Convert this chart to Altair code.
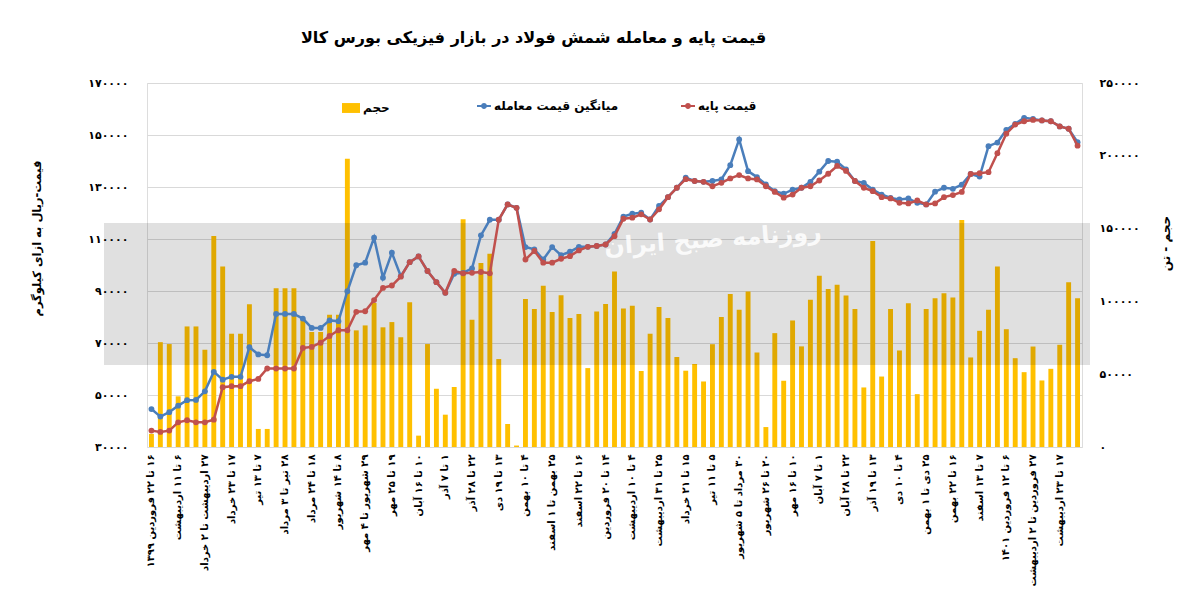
import json
import pandas as pd
import altair as alt

# ---------------- data ----------------
labels = [
    "۱۶ تا ۲۲ فروردین ۱۳۹۹", "۶ تا ۱۱ اردیبهشت", "۲۷ اردیبهشت تا ۲ خرداد", "۱۷ تا ۲۳ خرداد",
    "۷ تا ۱۳ تیر", "۲۸ تیر تا ۳ مرداد", "۱۸ تا ۲۴ مرداد", "۸ تا ۱۴ شهریور",
    "۲۹ شهریور تا ۴ مهر", "۱۹ تا ۲۵ مهر", "۱۰ تا ۱۶ آبان", "۱ تا ۷ آذر",
    "۲۲ تا ۲۸ آذر", "۱۳ تا ۱۹ دی", "۴ تا ۱۰ بهمن", "۲۵ بهمن تا ۱ اسفند",
    "۱۶ تا ۲۲ اسفند", "۱۴ تا ۲۰ فروردین", "۴ تا ۱۰ اردیبهشت", "۲۵ تا ۳۱ اردیبهشت",
    "۱۵ تا ۲۱ خرداد", "۵ تا ۱۱ تیر", "۳۰ مرداد تا ۵ شهریور", "۲۰ تا ۲۶ شهریور",
    "۱۰ تا ۱۶ مهر", "۱ تا ۷ آبان", "۲۲ تا ۲۸ آبان", "۱۳ تا ۱۹ آذر",
    "۴ تا ۱۰ دی", "۲۵ دی تا ۱ بهمن", "۱۶ تا ۲۲ بهمن", "۷ تا ۱۳ اسفند",
    "۶ تا ۱۲ فروردین ۱۴۰۱", "۲۷ فروردین تا ۲ اردیبهشت", "۱۷ تا ۲۳ اردیبهشت",
]

trade_price = [
    44600, 41700, 43400, 45900, 48000, 48100, 51400, 58900, 55900, 57000,
    57000, 68400, 65600, 65300, 81200, 81200, 81200, 79400, 75800, 75800,
    78700, 78400, 89900, 99900, 100900, 110500, 95100, 104700, 95700, 101100,
    103300, 97700, 93400, 89300, 96600, 97000, 98700, 111400, 117400, 117400,
    123300, 122000, 106900, 106000, 102100, 106900, 103800, 105100, 107000, 107000,
    107300, 107900, 112000, 118600, 119700, 120100, 117500, 122700, 126100, 129700,
    133600, 132300, 132000, 132300, 132900, 138400, 148300, 136100, 133800, 131000,
    128400, 127400, 129000, 129700, 132000, 135900, 140000, 139700, 136800, 132300,
    131600, 129000, 127100, 125800, 125200, 125600, 123900, 123300, 128200, 129700,
    129300, 130900, 135000, 134000, 145700, 147100, 152000, 154300, 156600, 156200,
    155600, 155300, 153300, 152400, 147200,
]

base_price = [
    36300, 35800, 36300, 39500, 40300, 39500, 39500, 40500, 53000, 53400,
    53400, 55300, 56200, 60200, 60200, 60200, 60200, 68100, 68500, 70100,
    72700, 74900, 74900, 82000, 82200, 86500, 91200, 92100, 95500, 101100,
    103300, 97700, 93400, 89300, 97700, 96800, 97000, 97300, 96800, 117400,
    123300, 122000, 102100, 105400, 100900, 100900, 102400, 103400, 105600, 107000,
    107300, 107900, 111100, 117800, 118200, 119500, 117500, 121400, 126100, 129700,
    133000, 132300, 132000, 130300, 131600, 133300, 134600, 133300, 132900, 130300,
    128100, 125900, 127100, 129700, 130300, 132500, 135100, 138100, 136200, 132300,
    129700, 128400, 126100, 125600, 123900, 123700, 124800, 123300, 123700, 126100,
    126900, 128100, 135000, 135300, 135700, 143000, 150500, 154000, 155300, 155800,
    155600, 155300, 153300, 152400, 145900,
]

volume = [
    9000, 72000, 70700, 34800, 82800, 82800, 66800, 145000, 124000, 77800,
    77800, 98000, 12400, 12400, 109000, 109000, 109000, 87400, 79000, 79000,
    90800, 90800, 198000, 80100, 83500, 98900, 82200, 85800, 75300, 99500,
    7800, 70700, 40000, 22200, 41200, 156500, 87400, 126300, 132700, 60400,
    15800, 1000, 101600, 94700, 110800, 92700, 104300, 88600, 91300, 54200,
    93100, 98200, 120600, 95200, 97000, 52200, 77800, 96100, 88600, 61800,
    52400, 57000, 45000, 70600, 89200, 105000, 94200, 106800, 64900, 13700,
    78200, 45500, 86900, 69100, 101100, 117600, 108600, 111400, 104100, 94700,
    40900, 141500, 48400, 94700, 66300, 98800, 36300, 94700, 102200, 105600,
    102600, 155900, 61500, 79800, 94200, 123900, 80900, 61000, 51400, 69000,
    45700, 53700, 70200, 113200, 102200,
]

price_ticks = [30000, 50000, 70000, 90000, 110000, 130000, 150000, 170000]
volume_ticks = [0, 50000, 100000, 150000, 200000, 250000]

S_TRADE = "میانگین قیمت معامله"
S_BASE = "قیمت پایه"
S_VOL = "حجم"
TITLE = "قیمت پایه و معامله شمش فولاد در بازار فیزیکی بورس کالا"
Y_LEFT_TITLE = "قیمت-ریال به ازای کیلوگرم"
Y_RIGHT_TITLE = "حجم - تن"
WATERMARK = "روزنامه صبح ایران"

BLUE = "#4A7EBB"
RED = "#C0504D"
GOLD = "#FFC000"
FONT = "DejaVu Sans"

n = len(volume)
idx = list(range(n))

FA = "۰۱۲۳۴۵۶۷۸۹"
RLE, PDF = "\u202b", "\u202c"


def fa_expr(e):
    for d in range(10):
        e = f"replace({e}, regexp('{d}', 'g'), '{FA[d]}')"
    return e


vol_df = pd.DataFrame({"i": idx, "v": volume, "s": [S_VOL] * n})
price_df = pd.DataFrame({
    "i": idx + idx,
    "p": trade_price + base_price,
    "s": [S_TRADE] * n + [S_BASE] * n,
})
one = pd.DataFrame({"a": [0]})

label_expr = json.dumps([RLE + l + PDF for l in labels], ensure_ascii=False) + "[datum.value / 3]"

x_enc = alt.X(
    "i:O",
    scale=alt.Scale(paddingInner=0.45, paddingOuter=0.225),
    axis=alt.Axis(
        values=idx[::3], labelExpr=label_expr, labelAngle=270, title=None,
        ticks=False, domain=False, labelPadding=7, labelFontSize=10,
        labelFontWeight="bold", labelColor="black", labelFont=FONT,
    ),
)

bars = alt.Chart(vol_df).mark_bar().encode(
    x=x_enc,
    y=alt.Y(
        "v:Q",
        scale=alt.Scale(domain=[0, 250000], nice=False),
        axis=alt.Axis(
            orient="right", values=volume_ticks, format="d",
            labelExpr=fa_expr("datum.label"), grid=False, ticks=False, domain=False,
            labelPadding=17, labelFontSize=11, labelFontWeight="bold", labelColor="black",
            labelFont=FONT, title=Y_RIGHT_TITLE, titleAngle=270, titleX=90, titleY=160,
            titleFontSize=12, titleFont=FONT, titleFontWeight="bold", titleColor="black",
        ),
    ),
    fill=alt.Fill(
        "s:N",
        scale=alt.Scale(domain=[S_VOL], range=[GOLD]),
        legend=alt.Legend(
            title=None, orient="none", legendX=195, legendY=16,
            symbolType="M-1,-0.55L1,-0.55L1,0.55L-1,0.55Z", symbolSize=324,
            symbolStrokeWidth=0, labelFontSize=12, labelFontWeight="bold",
            labelFont=FONT, labelColor="black", labelOffset=3,
        ),
    ),
)

y_price = alt.Y(
    "p:Q",
    scale=alt.Scale(domain=[30000, 170000], nice=False, zero=False),
    axis=alt.Axis(
        orient="left", values=price_ticks, format="d",
        labelExpr=fa_expr("datum.label"), grid=True, gridColor="#D9D9D9",
        ticks=False, domain=False, labelPadding=19, labelFontSize=11,
        labelFontWeight="bold", labelColor="black", labelFont=FONT,
        title=Y_LEFT_TITLE, titleAngle=270, titleX=-105, titleY=155,
        titleFontSize=11.5, titleFont=FONT, titleFontWeight="bold", titleColor="black",
    ),
)

legend_lines = alt.Legend(
    title=None, orient="none", legendX=330, legendY=16, direction="horizontal",
    columnPadding=62,
    symbolType="M-1,-0.13L1,-0.13L1,0.13L-1,0.13Z M-0.42,0A0.42,0.42 0 1,1 0.42,0A0.42,0.42 0 1,1 -0.42,0Z",
    symbolSize=196, symbolStrokeWidth=0, labelFontSize=12, labelFontWeight="bold",
    labelFont=FONT, labelColor="black", labelOffset=3,
)
color_enc = alt.Color(
    "s:N", scale=alt.Scale(domain=[S_TRADE, S_BASE], range=[BLUE, RED]),
    legend=legend_lines,
)


def series_layers(name, col):
    src = alt.Chart(price_df).transform_filter(alt.datum.s == name)
    line = src.mark_line(color=col, strokeWidth=2.5).encode(x=x_enc, y=y_price)
    pts = src.mark_circle(size=34, opacity=1).encode(x=x_enc, y=y_price, color=color_enc)
    return [line, pts]


price_layer = alt.layer(*(series_layers(S_TRADE, BLUE) + series_layers(S_BASE, RED)))

band = alt.Chart(one).mark_rect(color="black", opacity=0.12).encode(
    x=alt.value(-43), x2=alt.value(943), y=alt.value(140), y2=alt.value(282)
)
wm = alt.Chart(one).mark_text(
    text=WATERMARK, fontSize=24, fontWeight="bold", color="white", opacity=0.85,
    angle=356, font=FONT,
).encode(x=alt.value(566), y=alt.value(157))

chart = alt.layer(bars, band, wm, price_layer).resolve_scale(y="independent").properties(
    width=935,
    height=364,
    padding={"left": 139, "top": 75, "right": 100, "bottom": 140},
    autosize=alt.AutoSizeParams(type="none"),
    title=alt.Title(
        text=TITLE, fontSize=16, fontWeight="bold", font=FONT, anchor="middle",
        dx=-81, offset=31, color="black",
    ),
).configure_view(stroke=None).configure(background="white")

chart.save("out.html", embed_options={"renderer": "svg", "actions": False})
